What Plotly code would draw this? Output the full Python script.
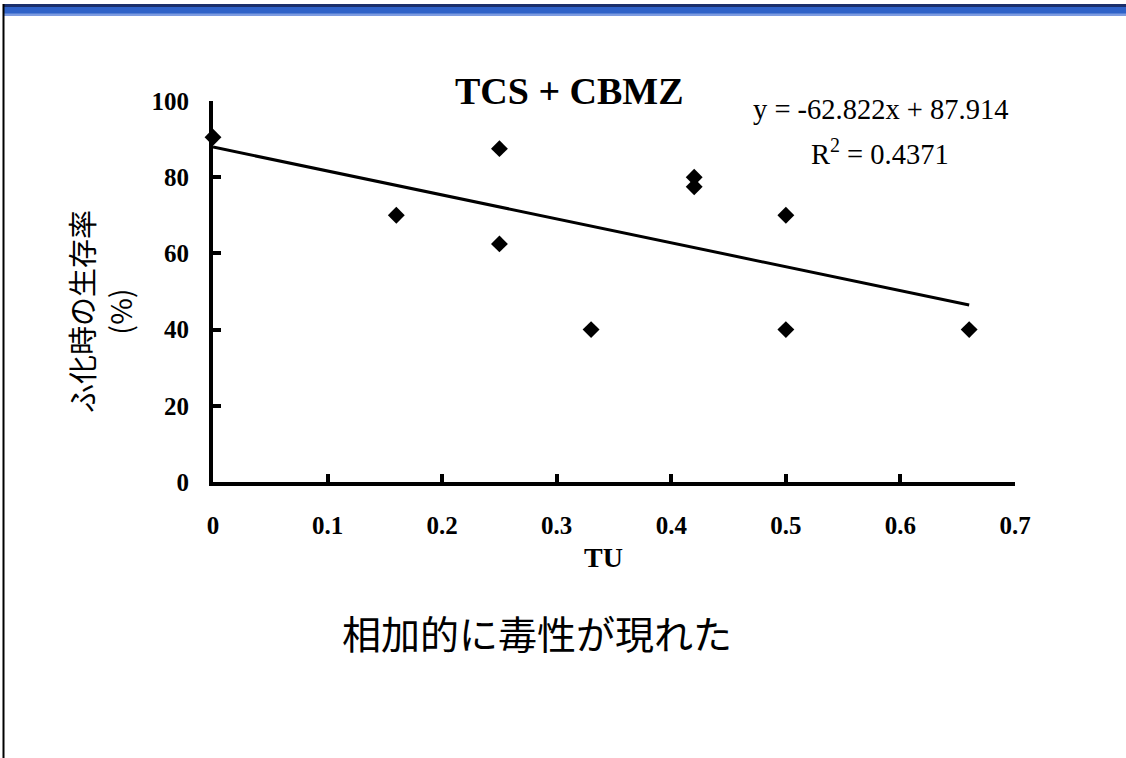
import plotly.graph_objects as go

# Data
tu = [0.0, 0.16, 0.25, 0.25, 0.33, 0.42, 0.42, 0.50, 0.50, 0.66]
survival = [90.5, 70.0, 87.5, 62.5, 40.0, 80.0, 77.5, 70.0, 40.0, 40.0]
slope = -62.822
intercept = 87.914
r2 = 0.4371
x_ticks = [0, 0.1, 0.2, 0.3, 0.4, 0.5, 0.6, 0.7]
y_ticks = [0, 20, 40, 60, 80, 100]

W, H = 1126, 758
L, R, T, B = 213, 1015, 101, 482

trend_x = [min(tu), max(tu)]
trend_y = [slope * v + intercept for v in trend_x]

fig = go.Figure()
fig.add_trace(go.Scatter(x=trend_x, y=trend_y, mode="lines",
                         line=dict(color="black", width=3), showlegend=False,
                         cliponaxis=False))
fig.add_trace(go.Scatter(x=tu, y=survival, mode="markers",
                         marker=dict(symbol="diamond", size=13, color="black"),
                         showlegend=False, cliponaxis=False))

serif = "Liberation Serif, Times New Roman, serif"
cjk = "Noto Sans CJK JP, sans-serif"

def px(x):
    return (x - L) / (R - L)

def py(y):
    return (B - y) / (B - T)

fig.update_layout(
    width=W, height=H,
    margin=dict(l=L, r=W - R, t=T, b=H - B, pad=0),
    paper_bgcolor="white", plot_bgcolor="white",
    xaxis=dict(range=[0, 0.7], tickvals=x_ticks,
               ticktext=[("0" if v == 0 else f"{v:.1f}") for v in x_ticks],
               showgrid=False, zeroline=False, showline=True,
               linecolor="black", linewidth=4, ticks="inside", ticklen=8,
               tickwidth=4, tickcolor="black", ticklabelstandoff=18,
               tickfont=dict(family=serif, size=25, color="black", weight="bold")),
    yaxis=dict(range=[0, 100], tickvals=y_ticks,
               showgrid=False, zeroline=False, showline=True,
               linecolor="black", linewidth=4, ticks="inside", ticklen=8,
               tickwidth=4, tickcolor="black", ticklabelstandoff=15,
               tickfont=dict(family=serif, size=25, color="black", weight="bold")),
    shapes=[
        dict(type="rect", xref="paper", yref="paper", x0=px(3), x1=px(W), y0=py(16), y1=py(4),
             fillcolor="#2f62c8", line=dict(width=0), layer="above"),
        dict(type="rect", xref="paper", yref="paper", x0=px(3), x1=px(W), y0=py(7), y1=py(4),
             fillcolor="#1b2f6b", line=dict(width=0), layer="above"),
        dict(type="rect", xref="paper", yref="paper", x0=px(3), x1=px(W), y0=py(16), y1=py(13.5),
             fillcolor="#7d9be0", line=dict(width=0), layer="above"),
        dict(type="line", xref="paper", yref="paper", x0=px(3.5), x1=px(3.5), y0=py(H), y1=py(4),
             line=dict(color="black", width=2)),
    ],
    annotations=[
        dict(text="TCS + CBMZ", xref="paper", yref="paper", x=px(569), y=py(91),
             showarrow=False, xanchor="center", yanchor="middle",
             font=dict(family=serif, size=38, color="black", weight="bold")),
        dict(text=f"y = {slope:.3f}x + {intercept:.3f}", xref="paper", yref="paper",
             x=px(880), y=py(110), showarrow=False, xanchor="center", yanchor="middle",
             font=dict(family=serif, size=28.5, color="black")),
        dict(text=f"R<sup>2</sup> = {r2:.4f}", xref="paper", yref="paper",
             x=px(880), y=py(152), showarrow=False, xanchor="center", yanchor="middle",
             font=dict(family=serif, size=28.5, color="black")),
        dict(text="TU", xref="paper", yref="paper", x=px(603), y=py(557),
             showarrow=False, xanchor="center", yanchor="middle",
             font=dict(family=serif, size=28, color="black", weight="bold")),
        dict(text="ふ化時の生存率<br>(%)", xref="paper", yref="paper", x=px(100), y=py(312),
             showarrow=False, xanchor="center", yanchor="middle", textangle=-90,
             font=dict(family=cjk, size=29, color="black")),
        dict(text="相加的に毒性が現れた", xref="paper", yref="paper", x=px(537), y=py(632),
             showarrow=False, xanchor="center", yanchor="middle",
             font=dict(family=cjk, size=39, color="black")),
    ],
)

fig.write_html("out.html", config={"displayModeBar": False},
               post_script="document.body.style.margin='0';document.body.style.padding='0';")
